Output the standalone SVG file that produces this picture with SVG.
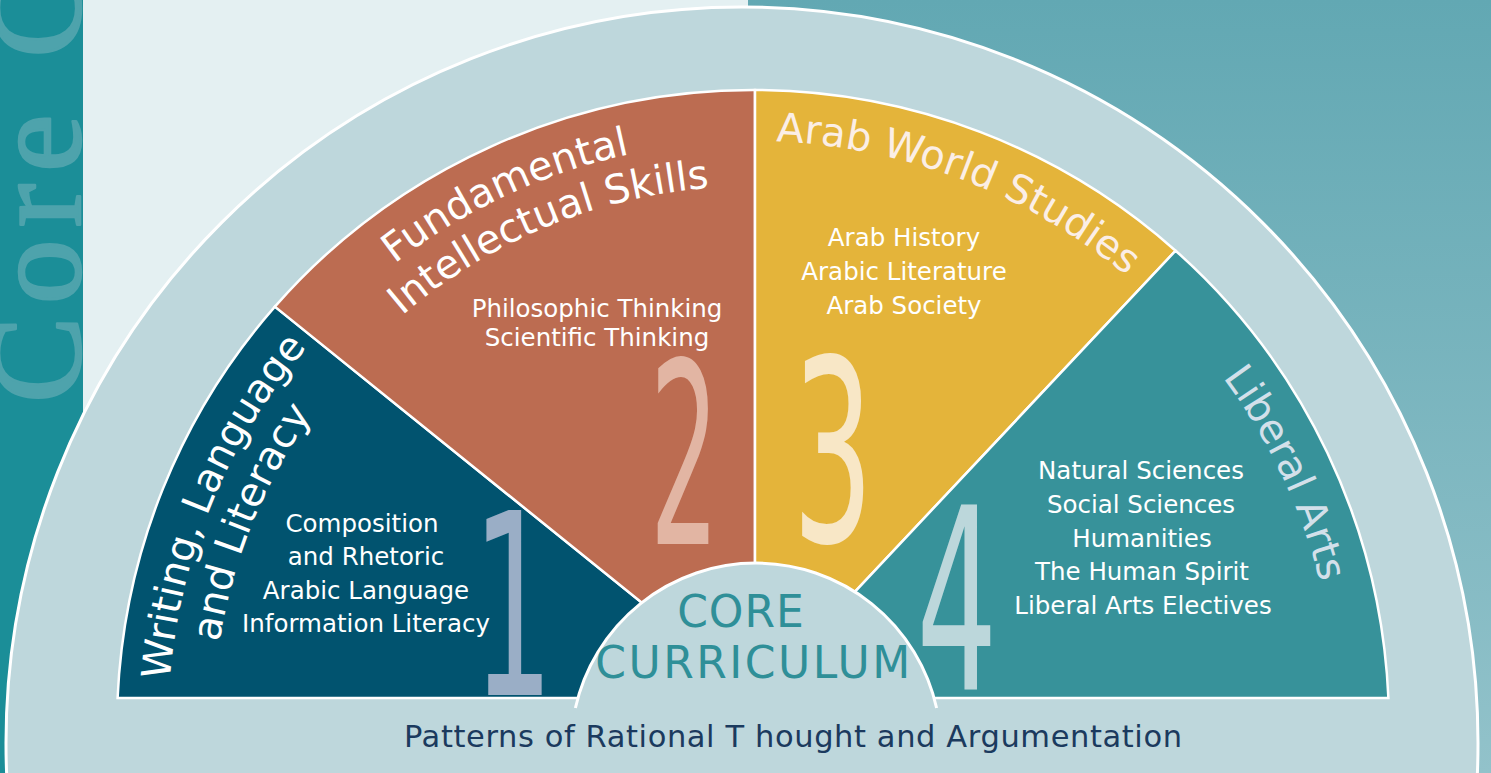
<svg xmlns="http://www.w3.org/2000/svg" xmlns:xlink="http://www.w3.org/1999/xlink" width="1491" height="773" viewBox="0 0 1491 773">
  <style>
    .body { font-family: "DejaVu Sans", "Open Sans", sans-serif; font-size: 24.5px; fill: #ffffff; text-anchor: middle; }
    .head { font-family: "DejaVu Sans", "Open Sans", sans-serif; font-size: 40px; fill: #ffffff; }
    .num { font-family: "DejaVu Sans", "Open Sans", sans-serif; font-size: 254px; text-anchor: middle; }
    .wedge { stroke: #ffffff; stroke-width: 2.5; stroke-linejoin: miter; }
    .core { font-family: "DejaVu Sans", "Open Sans", sans-serif; font-size: 44px; fill: #2f8f98; text-anchor: middle; }
  </style>
  <defs>
    <linearGradient id="rightBg" x1="0" y1="0" x2="0" y2="1">
      <stop offset="0" stop-color="#62a8b3"/>
      <stop offset="1" stop-color="#92c2ca"/>
    </linearGradient>
    <path id="arcOuter" d="M 168 726 A 585 585 0 0 1 1338 726"/>
    <path id="arcInner" d="M 213 726 A 540 540 0 0 1 1293 726"/>
  </defs>

  <g id="background">
    <rect x="0" y="0" width="83" height="773" fill="#1b8e98"/>
    <text transform="translate(80 403) rotate(-90)" x="0" y="0" font-family="'Liberation Serif', 'DejaVu Serif', serif" font-size="130" letter-spacing="12" fill="#4ea3ac" stroke="#4ea3ac" stroke-width="2.5" stroke-linejoin="round">Core C</text>
    <rect x="83" y="0" width="665" height="773" fill="#e4f0f2"/>
    <rect x="748" y="0" width="743" height="773" fill="url(#rightBg)"/>
    <circle cx="742" cy="743" r="736" fill="#bed7dc" stroke="#ffffff" stroke-width="3"/>
  </g>

  <g id="connectors"/>

  <g id="wedge-1">
    <path class="wedge" d="M 760 698 L 274.9 306.6 A 636 636 0 0 0 117.6 698 Z" fill="#01536f"/>
    <text class="head"><textPath xlink:href="#arcOuter" startOffset="46">Writing, Language</textPath></text>
    <text class="head"><textPath xlink:href="#arcInner" startOffset="84">and Literacy</textPath></text>
    <text class="body" x="362" y="532">Composition</text>
    <text class="body" x="366" y="565">and Rhetoric</text>
    <text class="body" x="366" y="598.5">Arabic Language</text>
    <text class="body" x="366" y="632">Information Literacy</text>
    <text class="num" transform="translate(513 695) scale(0.5 1)" fill="#9aaec6">1</text>
  </g>

  <g id="wedge-2">
    <path class="wedge" d="M 755 698 L 755 90 A 636 636 0 0 0 274.9 306.6 L 760 698 Z" fill="#bc6c51"/>
    <text class="head"><textPath xlink:href="#arcOuter" startOffset="533">Fundamental</textPath></text>
    <text class="head"><textPath xlink:href="#arcInner" startOffset="466">Intellectual Skills</textPath></text>
    <text class="body" x="597" y="316.5">Philosophic Thinking</text>
    <text class="body" x="597" y="346">Scientific Thinking</text>
    <text class="num" transform="translate(684.5 544) scale(0.43 1)" fill="#e2b5a3">2</text>
  </g>

  <g id="wedge-3">
    <path class="wedge" d="M 755 698 L 755 90 A 636 636 0 0 1 1175.6 250.7 Z" fill="#e4b43a"/>
    <text class="head" style="fill:#fbeee6"><textPath xlink:href="#arcOuter" startOffset="942">Arab World Studies</textPath></text>
    <text class="body" x="904" y="246">Arab History</text>
    <text class="body" x="904" y="280">Arabic Literature</text>
    <text class="body" x="904" y="314">Arab Society</text>
    <text class="num" transform="translate(833 541) scale(0.5 1)" fill="#f8e7c6">3</text>
  </g>

  <g id="wedge-4">
    <path class="wedge" d="M 755 698 L 1175.6 250.7 A 636 636 0 0 1 1388.4 698 Z" fill="#37929a"/>
    <text class="head" style="fill:#d3e0ea"><textPath xlink:href="#arcOuter" startOffset="1464">Liberal Arts</textPath></text>
    <text class="body" x="1141" y="479">Natural Sciences</text>
    <text class="body" x="1141" y="513">Social Sciences</text>
    <text class="body" x="1142" y="547">Humanities</text>
    <text class="body" x="1142" y="580">The Human Spirit</text>
    <text class="body" x="1143" y="614">Liberal Arts Electives</text>
    <text class="num" transform="translate(957 690) scale(0.5 1)" fill="#bcd7db">4</text>
  </g>

  <g id="core">
    <path d="M 575.4 708 A 185 185 0 0 1 936.6 708 Z" fill="#bed7dc"/>
    <path d="M 575.4 708 A 185 185 0 0 1 936.6 708" fill="none" stroke="#ffffff" stroke-width="3"/>
    <text class="core" x="741" y="627" letter-spacing="1">CORE</text>
    <text class="core" x="754" y="678" letter-spacing="2.5">CURRICULUM</text>
  </g>

  <g id="foundation">
    <text x="404" y="747" font-family="'DejaVu Sans', 'Open Sans', sans-serif" font-size="30.5" fill="#1b3a5e" textLength="778" lengthAdjust="spacing">Patterns of Rational T hought and Argumentation</text>
  </g>
</svg>
